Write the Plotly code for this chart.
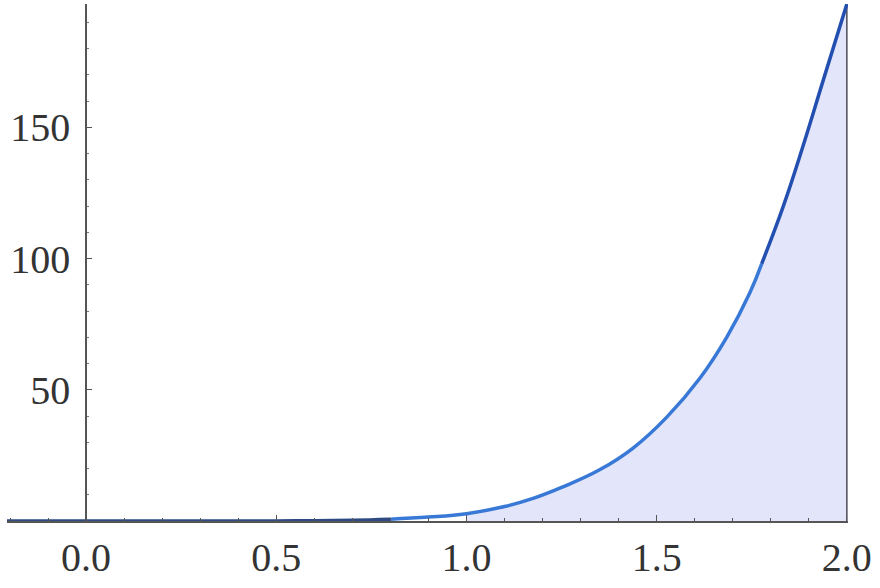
import plotly.graph_objects as go

# Data
x_vals = [-0.208, -0.1, 0.0, 0.1, 0.2, 0.3, 0.4, 0.5, 0.6, 0.7, 0.8, 0.9, 1.0,
          1.1, 1.175, 1.25, 1.35, 1.438, 1.526, 1.614, 1.684, 1.745, 1.776,
          1.833, 1.885, 1.938, 2.0]
y_vals = [0.0, 0.0, 0.0, 0.0, 0.0, 0.0, 0.01, 0.03, 0.1, 0.3, 0.7, 1.5, 2.8,
          5.5, 8.6, 12.8, 19.5, 27.8, 39.5, 54.5, 70.0, 87.0, 98.0,
          120.0, 143.0, 168.0, 197.0]

x_ticks = [0.0, 0.5, 1.0, 1.5, 2.0]
x_tick_text = ["0.0", "0.5", "1.0", "1.5", "2.0"]
y_ticks = [50, 100, 150]
y_tick_text = ["50", "100", "150"]

fill_from = 1.0
segments = [(-0.3, 0.8, "#2d4b82"), (0.8, 1.776, "#3878d6"), (1.776, 2.1, "#2350b0")]

fig = go.Figure()

# shaded area between x=1 and x=2
fx = [x for x in x_vals if x >= fill_from]
fy = [y for x, y in zip(x_vals, y_vals) if x >= fill_from]
fig.add_trace(go.Scatter(x=fx, y=fy, mode="lines", line=dict(width=0, shape="spline", smoothing=1.2),
                         fill="tozeroy", fillcolor="#e3e5fa", hoverinfo="skip",
                         showlegend=False))

# right boundary line at x=2
fig.add_trace(go.Scatter(x=[fx[-1], fx[-1]], y=[0, fy[-1]], mode="lines",
                         line=dict(color="#4a4a5a", width=1.5), showlegend=False))

# curve in coloured segments
for lo, hi, col in segments:
    idx = [i for i, x in enumerate(x_vals) if lo <= x <= hi]
    if not idx:
        continue
    a = idx[0]
    b = idx[-1]
    fig.add_trace(go.Scatter(x=x_vals[a:b + 1], y=y_vals[a:b + 1], mode="lines",
                             line=dict(color=col, width=3.5, shape="spline", smoothing=1.2),
                             showlegend=False))

xmin, xmax = -0.208, 2.003
fig.update_layout(
    width=880, height=588,
    margin=dict(l=7, r=32, t=4, b=67),
    paper_bgcolor="white", plot_bgcolor="white",
    font=dict(family="Liberation Serif", size=40, color="#333333"),
    xaxis=dict(range=[xmin, xmax], showgrid=False, zeroline=False, automargin=False,
               showline=True, linecolor="#555555", linewidth=1.5,
               ticks="inside", ticklen=6, tickwidth=1.2, tickcolor="#555555",
               tickvals=x_ticks, ticktext=x_tick_text,
               minor=dict(dtick=0.1, ticks="inside", ticklen=3, tickcolor="#555555"),
               ticklabelstandoff=0),
    yaxis=dict(range=[0, 197], showgrid=False, zeroline=False, automargin=False,
               anchor="free", position=(0 - xmin) / (xmax - xmin),
               showline=True, linecolor="#555555", linewidth=1.5,
               ticks="inside", ticklen=5, tickwidth=1.2, tickcolor="#555555",
               tickvals=y_ticks, ticktext=y_tick_text,
               minor=dict(dtick=10, ticks="inside", ticklen=2, tickcolor="#777777"),
               ticklabelstandoff=7),
)

fig.write_html("out.html", config={"displayModeBar": False},
               post_script="document.body.style.margin='0px';")
